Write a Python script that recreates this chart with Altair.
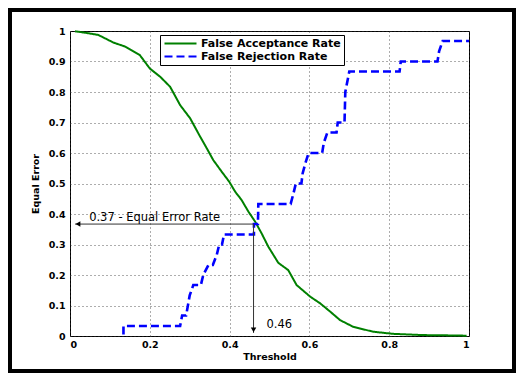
import altair as alt
import pandas as pd

# ---- data ----
far_x = [0.0125, 0.04, 0.071, 0.109, 0.138, 0.175, 0.2, 0.226, 0.251, 0.276,
         0.301, 0.326, 0.343, 0.359, 0.380, 0.399, 0.414, 0.430, 0.447, 0.464,
         0.480, 0.497, 0.522, 0.547, 0.568, 0.602, 0.627, 0.652, 0.677, 0.710,
         0.760, 0.810, 0.886, 0.95, 0.994]
far_y = [0.999, 0.994, 0.987, 0.962, 0.949, 0.921, 0.877, 0.850, 0.817, 0.757,
         0.714, 0.654, 0.615, 0.577, 0.539, 0.506, 0.473, 0.446, 0.408, 0.375,
         0.337, 0.293, 0.240, 0.216, 0.167, 0.129, 0.107, 0.080, 0.052, 0.030,
         0.014, 0.007, 0.003, 0.002, 0.001]

frr_x = [0.134, 0.134, 0.276, 0.281, 0.291, 0.300, 0.309, 0.328, 0.334, 0.347,
         0.358, 0.368, 0.374, 0.381, 0.386, 0.461, 0.461, 0.471, 0.472, 0.553,
         0.560, 0.566, 0.580, 0.583, 0.590, 0.598, 0.632, 0.636, 0.645, 0.668,
         0.671, 0.688, 0.690, 0.700, 0.826, 0.829, 0.921, 0.925, 0.934, 1.0]
frr_y = [0.005, 0.033, 0.033, 0.067, 0.067, 0.133, 0.167, 0.167, 0.200, 0.233,
         0.233, 0.267, 0.300, 0.300, 0.333, 0.333, 0.367, 0.367, 0.433, 0.433,
         0.467, 0.500, 0.500, 0.533, 0.567, 0.600, 0.600, 0.633, 0.667, 0.667,
         0.700, 0.700, 0.800, 0.867, 0.867, 0.900, 0.900, 0.933, 0.967, 0.967]

series_names = ["False Acceptance Rate", "False Rejection Rate"]
series_colors = ["#008000", "#0000ff"]
series_dashes = [[1, 0], [8, 4]]

x_ticks = [0, 0.2, 0.4, 0.6, 0.8, 1]
y_ticks = [0, 0.1, 0.2, 0.3, 0.4, 0.5, 0.6, 0.7, 0.8, 0.9, 1]

eer_threshold = 0.46
eer_value = 0.367
arrow_left_x = 0.0125
arrow_bottom_y = 0.01
eer_label = "0.37 - Equal Error Rate"
eer_label_x = 0.048
eer_label_y = 0.376
thr_label = "0.46"
thr_label_x = 0.4925
thr_label_y = 0.026

# ---- tables ----
far_df = pd.DataFrame({"x": far_x, "y": far_y, "series": series_names[0],
                       "i": list(range(len(far_x)))})
frr_df = pd.DataFrame({"x": frr_x, "y": frr_y, "series": series_names[1],
                       "i": list(range(len(frr_x)))})

xs = alt.Scale(domain=[0, 1], nice=False)
ys = alt.Scale(domain=[0, 1], nice=False)

x_axis = alt.Axis(values=x_ticks, format=".1~f", grid=True, domain=False, ticks=False,
                  labelPadding=3, labelOverlap=False, title="Threshold", titlePadding=3)
y_axis = alt.Axis(values=y_ticks, format=".1~f", grid=True, domain=False, ticks=False,
                  labelPadding=5, labelOverlap=False, title="Equal Error", titlePadding=8)


def X(field):
    return alt.X(field, scale=xs, axis=x_axis)


def Y(field):
    return alt.Y(field, scale=ys, axis=y_axis)


legend = alt.Legend(
    title=None, orient="none", legendX=90, legendY=4,
    symbolType="M-1,0H7", symbolSize=64, symbolStrokeWidth=2,
    labelOffset=27, padding=3, rowPadding=1,
    strokeColor="black", fillColor="white",
    labelFont="DejaVu Sans", labelFontSize=11, labelFontWeight="bold",
    labelColor="black", labelLimit=0,
)

color = alt.Color("series:N", scale=alt.Scale(domain=series_names, range=series_colors),
                  legend=legend)
dash = alt.StrokeDash("series:N", scale=alt.Scale(domain=series_names, range=series_dashes),
                      legend=legend)

far_line = alt.Chart(far_df).mark_line(strokeWidth=2).encode(
    x=X("x:Q"), y=Y("y:Q"), color=color, strokeDash=dash, order="i:Q")
frr_line = alt.Chart(frr_df).mark_line(strokeWidth=2.6).encode(
    x=X("x:Q"), y=Y("y:Q"), color=color, strokeDash=dash, order="i:Q")

ann = pd.DataFrame({"x0": [eer_threshold], "y0": [eer_value],
                    "xl": [arrow_left_x], "yb": [arrow_bottom_y]})
h_rule = alt.Chart(ann).mark_rule(color="#333", strokeWidth=1).encode(
    x=X("xl:Q"), x2="x0:Q", y=Y("y0:Q"))
v_rule = alt.Chart(ann).mark_rule(color="#333", strokeWidth=1).encode(
    x=X("x0:Q"), y=Y("yb:Q"), y2="y0:Q")
left_head = alt.Chart(ann).mark_point(shape="triangle-left", filled=True, color="black",
                                      size=30, opacity=1).encode(
    x=X("xl:Q"), y=Y("y0:Q"), xOffset=alt.value(3))
down_head = alt.Chart(ann).mark_point(shape="triangle-down", filled=True, color="black",
                                      size=30, opacity=1).encode(
    x=X("x0:Q"), y=Y("yb:Q"), yOffset=alt.value(-3))

txt = pd.DataFrame({"x": [eer_label_x, thr_label_x], "y": [eer_label_y, thr_label_y],
                    "t": [eer_label, thr_label]})
labels = alt.Chart(txt).mark_text(align="left", baseline="alphabetic", font="DejaVu Sans",
                                  fontSize=11.5, color="black").encode(
    x=X("x:Q"), y=Y("y:Q"), text="t:N")

frame = alt.Chart(ann).mark_rect(filled=False, stroke="black", strokeWidth=4).encode(
    x=alt.value(-60), x2=alt.value(444), y=alt.value(-21), y2=alt.value(340))

chart = alt.layer(far_line, frr_line, h_rule, v_rule, left_head, down_head, labels, frame).properties(
    width=399, height=305,
    padding={"left": 62, "top": 23, "right": 47, "bottom": 37},
    autosize=alt.AutoSizeParams(type="none"),
    background="white",
).configure_view(stroke="black", strokeWidth=1).configure_axis(
    labelFont="DejaVu Sans", labelFontWeight="bold", labelFontSize=9.5, labelColor="black",
    titleFont="DejaVu Sans", titleFontWeight="bold", titleFontSize=9.5, titleColor="black",
    gridColor="#333", gridDash=[1, 3], gridWidth=1, gridOpacity=0.8,
)

chart.save("out.html", embed_options={"renderer": "svg", "actions": False})
